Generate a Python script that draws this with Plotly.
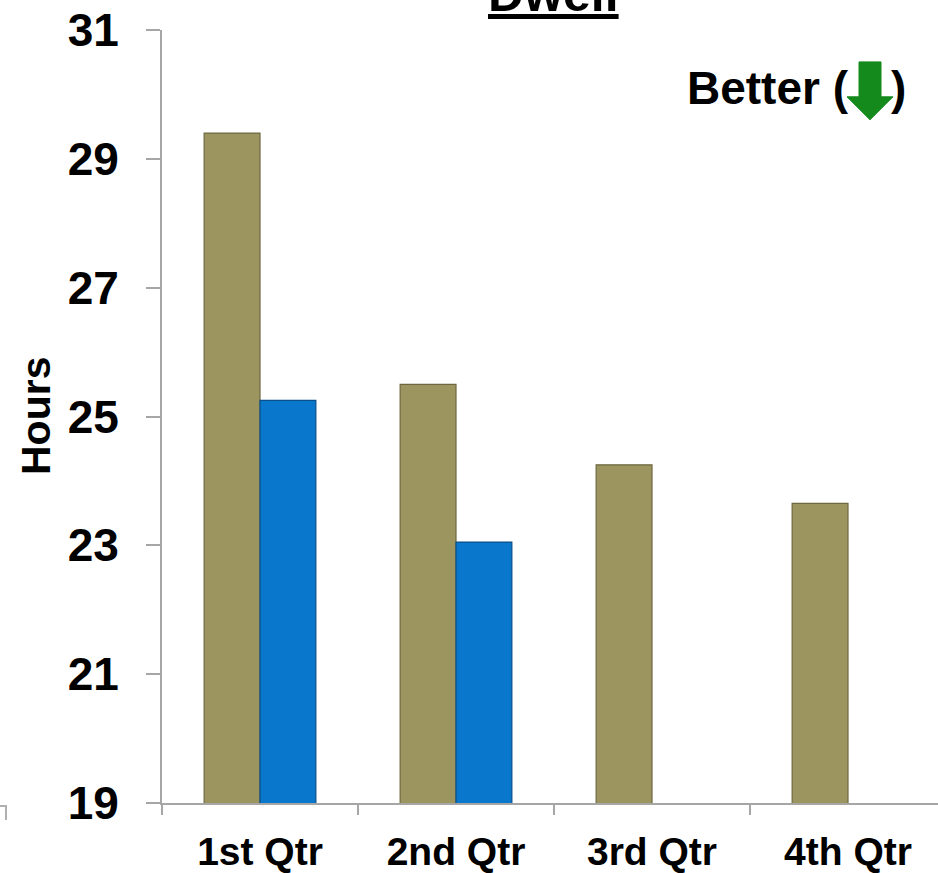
import plotly.graph_objects as go

# Quarterly dwell time (hours)
quarters = ["1st Qtr", "2nd Qtr", "3rd Qtr", "4th Qtr"]
prior_year = [29.4, 25.5, 24.25, 23.65]
current_year = [25.25, 23.05, None, None]
y_ticks = [19, 21, 23, 25, 27, 29, 31]

OLIVE = "#9D955F"
BLUE = "#0877CC"
FONT = "Liberation Sans, Arial, sans-serif"

W, H = 938, 873
L, R, T, B = 162, 0, 30, 68
PW, PH = W - L - R, H - T - B
CAT_PX = 196  # width of one category slot


def px(x):
    return (x - L) / PW


def py(y):
    return (H - B - y) / PH


fig = go.Figure()
fig.add_trace(go.Bar(
    x=quarters, y=prior_year,
    marker=dict(color=OLIVE, line=dict(color="#6E6840", width=1.2)),
    showlegend=False,
))
fig.add_trace(go.Bar(
    x=quarters, y=current_year,
    marker=dict(color=BLUE, line=dict(color="#0A4F8A", width=1.2)),
    showlegend=False,
))

fig.update_layout(
    width=W, height=H,
    margin=dict(l=L, r=R, t=T, b=B, pad=0),
    paper_bgcolor="white", plot_bgcolor="white",
    barmode="group", bargap=0.43, bargroupgap=0,
    font=dict(family=FONT, color="black"),
)
fig.update_xaxes(
    range=[-0.5, -0.5 + PW / CAT_PX],
    showline=True, linecolor="#A6A6A6", linewidth=2,
    ticks="outside", tickson="boundaries", ticklen=10, tickcolor="#A6A6A6", tickwidth=2,
    tickfont=dict(size=39, family=FONT, weight="bold"),
    ticklabelstandoff=13,
    showgrid=False, zeroline=False, fixedrange=True,
)
fig.update_yaxes(
    range=[19, 31], tickvals=y_ticks,
    showline=True, linecolor="#A6A6A6", linewidth=2,
    ticks="outside", ticklen=14, tickcolor="#A6A6A6", tickwidth=2,
    tickfont=dict(size=46, family=FONT, weight="bold"),
    ticklabelstandoff=18,
    showgrid=False, zeroline=False, fixedrange=True,
)

# Axis title
fig.add_annotation(
    text="<b>Hours</b>", textangle=-90, showarrow=False,
    xref="paper", yref="paper", x=px(36), y=py(417),
    xanchor="center", yanchor="middle",
    font=dict(size=41, family=FONT, color="black"),
)

# Chart title (partly above the page)
fig.add_annotation(
    text="<b><u>Dwell</u></b>", showarrow=False,
    xref="paper", yref="paper", x=px(553), y=py(12),
    xanchor="center", yanchor="bottom", yshift=-12,
    font=dict(size=50, family=FONT, color="black"),
)

# "Better (↓)" indicator
fig.add_annotation(
    text="<b>Better (</b>", showarrow=False,
    xref="paper", yref="paper", x=px(851), y=py(88),
    xanchor="right", yanchor="middle",
    font=dict(size=46, family=FONT, color="black"),
)
fig.add_annotation(
    text="<b>)</b>", showarrow=False,
    xref="paper", yref="paper", x=px(889), y=py(88),
    xanchor="left", yanchor="middle",
    font=dict(size=46, family=FONT, color="black"),
)
arrow_pts = [(859, 62), (881, 62), (881, 97), (893, 97), (870, 120), (847, 97), (859, 97)]
path = "M " + " L ".join(f"{px(x):.5f},{py(y):.5f}" for x, y in arrow_pts) + " Z"
fig.add_shape(type="path", path=path, xref="paper", yref="paper",
              fillcolor="#148A1C", line=dict(color="#148A1C", width=1))

# small frame corner at lower left
corner = f"M {px(0):.5f},{py(808):.5f} L {px(6):.5f},{py(808):.5f} L {px(6):.5f},{py(822):.5f}"
fig.add_shape(type="path", path=corner, xref="paper", yref="paper",
              line=dict(color="#B0B0B0", width=2))

fig.write_html("out.html", config={"displayModeBar": False})
